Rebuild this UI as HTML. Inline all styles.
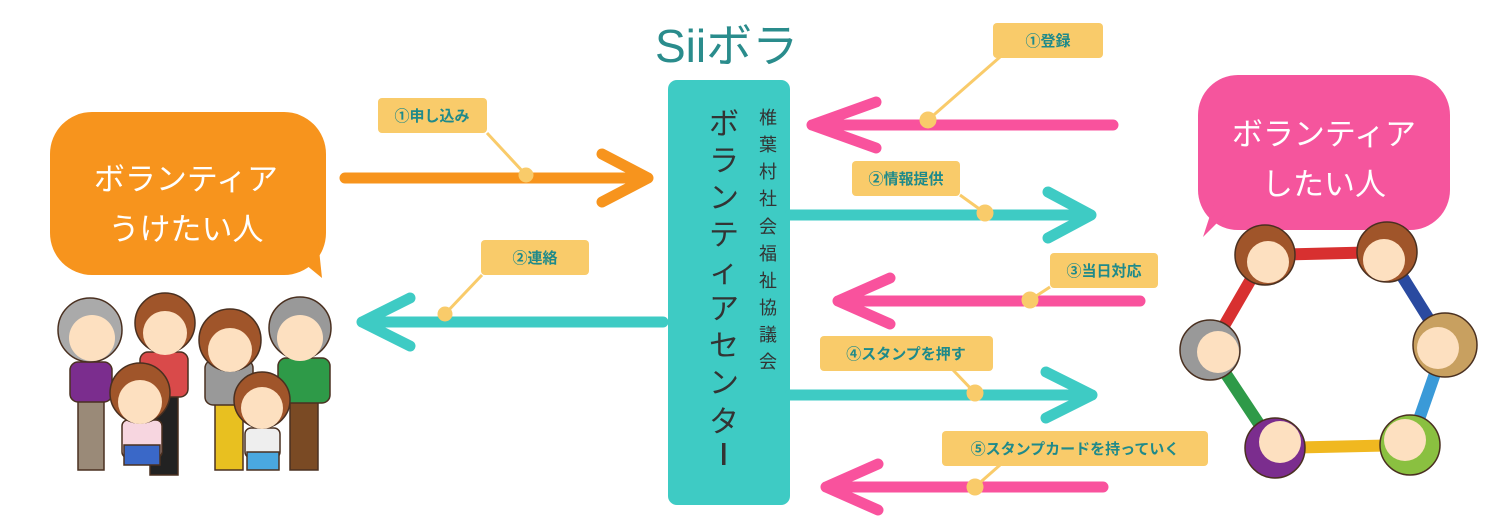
<!DOCTYPE html>
<html><head><meta charset="utf-8"><style>
html,body{margin:0;padding:0;background:#fff;}
svg{display:block;}
text{font-family:"Liberation Sans","Noto Sans CJK JP",sans-serif;}
.lab{fill:#1f8a8a;font-weight:bold;font-size:15px;}
</style></head><body>
<svg width="1500" height="520" viewBox="0 0 1500 520" xmlns="http://www.w3.org/2000/svg">
<rect width="1500" height="520" fill="#fff"/>
<text x="655" y="62" font-size="46" fill="#2a8c8c">Siiボラ</text>
<rect x="668" y="80" width="122" height="425" rx="9" fill="#3ecbc4"/>
<g font-size="30" fill="#333" text-anchor="middle">
<text x="724" y="134">ボ</text><text x="724" y="171">ラ</text><text x="724" y="208">ン</text><text x="724" y="245">テ</text><text x="724" y="282">ィ</text><text x="724" y="319">ア</text><text x="724" y="356">セ</text><text x="724" y="393">ン</text><text x="724" y="432">タ</text>
</g>
<rect x="722" y="443" width="3.5" height="22" fill="#333"/>
<g font-size="18" fill="#333" text-anchor="middle">
<text x="768" y="124">椎</text><text x="768" y="151">葉</text><text x="768" y="178">村</text><text x="768" y="205">社</text><text x="768" y="233">会</text><text x="768" y="260">福</text><text x="768" y="287">祉</text><text x="768" y="314">協</text><text x="768" y="341">議</text><text x="768" y="368">会</text>
</g>
<g fill="none" stroke-width="11" stroke-linecap="round" stroke-linejoin="round">
<g stroke="#f7941d"><path d="M345 178H648M602 154L648 178L602 202"/></g>
<g stroke="#3ecbc4"><path d="M663 322H362M410 298L362 322L410 346"/></g>
<g stroke="#f9529d"><path d="M1113 125H812M876 102L812 125L876 148"/></g>
<g stroke="#3ecbc4"><path d="M790 215H1091M1048 192L1091 215L1048 238"/></g>
<g stroke="#f9529d"><path d="M1140 301H838M890 278L838 301L890 324"/></g>
<g stroke="#3ecbc4"><path d="M790 395H1092M1046 372L1092 395L1046 418"/></g>
<g stroke="#f9529d"><path d="M1103 487H826M878 464L826 487L878 510"/></g>
</g>
<g stroke="#f9cb6a" stroke-width="3" fill="#f9cb6a">
<line x1="487" y1="133" x2="526" y2="175"/><circle cx="526" cy="175" r="6"/>
<line x1="482" y1="275" x2="445" y2="314"/><circle cx="445" cy="314" r="6"/>
<line x1="1000" y1="57" x2="928" y2="120"/><circle cx="928" cy="120" r="7"/>
<line x1="960" y1="195" x2="985" y2="213"/><circle cx="985" cy="213" r="7"/>
<line x1="1050" y1="287" x2="1030" y2="300"/><circle cx="1030" cy="300" r="7"/>
<line x1="953" y1="370" x2="975" y2="393"/><circle cx="975" cy="393" r="7"/>
<line x1="1000" y1="465" x2="975" y2="487"/><circle cx="975" cy="487" r="7"/>
</g>
<g fill="#f9cb6a">
<rect x="378" y="98" width="109" height="35" rx="4"/>
<rect x="481" y="240" width="108" height="35" rx="4"/>
<rect x="993" y="23" width="110" height="35" rx="4"/>
<rect x="852" y="161" width="108" height="35" rx="4"/>
<rect x="1050" y="253" width="108" height="35" rx="4"/>
<rect x="820" y="336" width="173" height="35" rx="4"/>
<rect x="942" y="431" width="266" height="35" rx="4"/>
</g>
<g text-anchor="middle">
<text x="432" y="121" class="lab">①申し込み</text>
<text x="535" y="263" class="lab">②連絡</text>
<text x="1048" y="46" class="lab">①登録</text>
<text x="906" y="184" class="lab">②情報提供</text>
<text x="1104" y="276" class="lab">③当日対応</text>
<text x="906" y="359" class="lab">④スタンプを押す</text>
<text x="1075" y="454" class="lab">⑤スタンプカードを持っていく</text>
</g>
<rect x="50" y="112" width="276" height="163" rx="42" fill="#f7941d"/>
<path d="M300 260L322 278L318 240Z" fill="#f7941d"/>
<text x="186" y="190" font-size="31" fill="#fff" text-anchor="middle">ボランティア</text>
<text x="186" y="240" font-size="31" fill="#fff" text-anchor="middle">うけたい人</text>
<rect x="1198" y="75" width="252" height="155" rx="40" fill="#f5559d"/>
<path d="M1225 215L1203 237L1215 200Z" fill="#f5559d"/>
<text x="1324" y="145" font-size="31" fill="#fff" text-anchor="middle">ボランティア</text>
<text x="1324" y="195" font-size="31" fill="#fff" text-anchor="middle">したい人</text>
<g stroke="#4a3020" stroke-width="1.5">
<rect x="78" y="395" width="26" height="75" fill="#9a8a78"/>
<rect x="70" y="362" width="42" height="40" rx="8" fill="#7b2d8e"/>
<circle cx="90" cy="330" r="32" fill="#aaa"/>
<rect x="150" y="390" width="28" height="85" fill="#222"/>
<rect x="140" y="352" width="48" height="45" rx="8" fill="#d94a4a"/>
<circle cx="165" cy="323" r="30" fill="#a0552a"/>
<rect x="215" y="395" width="28" height="75" fill="#e8c020"/>
<rect x="205" y="360" width="48" height="45" rx="8" fill="#999"/>
<circle cx="230" cy="340" r="31" fill="#a0552a"/>
<rect x="290" y="390" width="28" height="80" fill="#7a4a24"/>
<rect x="278" y="358" width="52" height="45" rx="8" fill="#2e9a48"/>
<circle cx="300" cy="328" r="31" fill="#999"/>
<rect x="122" y="420" width="40" height="38" rx="6" fill="#f7d6e0"/>
<rect x="124" y="445" width="36" height="20" fill="#3a68c8"/>
<circle cx="140" cy="393" r="30" fill="#a0552a"/>
<rect x="245" y="428" width="35" height="30" rx="6" fill="#eee"/>
<rect x="247" y="452" width="32" height="18" fill="#4aa8e0"/>
<circle cx="262" cy="400" r="28" fill="#a0552a"/>
</g>
<g fill="#fde0c0">
<circle cx="92" cy="338" r="23"/><circle cx="165" cy="333" r="22"/><circle cx="230" cy="350" r="22"/><circle cx="300" cy="338" r="23"/><circle cx="140" cy="402" r="22"/><circle cx="262" cy="408" r="21"/>
</g>
<g fill="none" stroke-width="12" stroke-linecap="round">
<path d="M1265 255L1387 252" stroke="#d83030"/>
<path d="M1387 252L1445 345" stroke="#2a4aa0"/>
<path d="M1445 345L1410 445" stroke="#3a9ad8"/>
<path d="M1410 445L1275 448" stroke="#f0b820"/>
<path d="M1275 448L1210 350" stroke="#2e9a48"/>
<path d="M1210 350L1265 255" stroke="#d83030"/>
</g>
<g stroke="#4a3020" stroke-width="1.5">
<circle cx="1265" cy="255" r="30" fill="#a0552a"/>
<circle cx="1387" cy="252" r="30" fill="#a0552a"/>
<circle cx="1445" cy="345" r="32" fill="#c8a060"/>
<circle cx="1410" cy="445" r="30" fill="#8ac040"/>
<circle cx="1275" cy="448" r="30" fill="#7b2d8e"/>
<circle cx="1210" cy="350" r="30" fill="#999"/>
</g>
<g fill="#fde0c0">
<circle cx="1268" cy="262" r="21"/><circle cx="1384" cy="260" r="21"/><circle cx="1438" cy="348" r="21"/><circle cx="1405" cy="440" r="21"/><circle cx="1280" cy="442" r="21"/><circle cx="1218" cy="352" r="21"/>
</g>
</svg>
</body></html>
